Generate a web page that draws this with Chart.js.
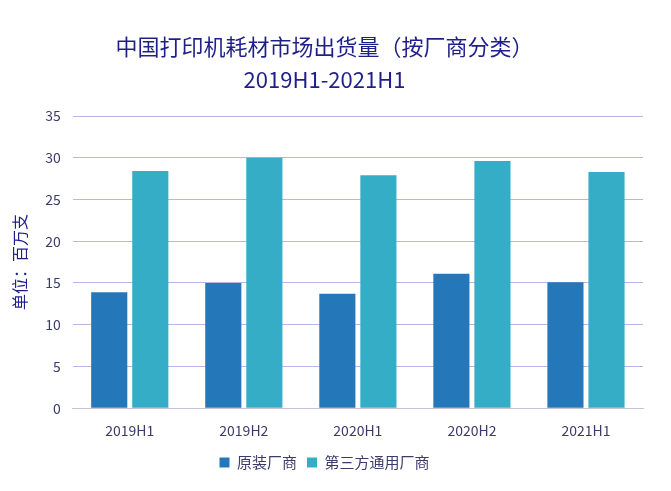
<!DOCTYPE html>
<html>
<head>
<meta charset="utf-8">
<script src="https://cdn.jsdelivr.net/npm/chart.js@4"></script>
<style>
  body { margin: 0; background: #fff; }
  #wrap { width: 671px; height: 491px; }
</style>
</head>
<body>
<div id="wrap"><canvas id="bar-chart" width="671" height="491"></canvas></div>
<script>
const periods = ['2019H1', '2019H2', '2020H1', '2020H2', '2021H1'];
const originalVendor = [13.9, 15.0, 13.7, 16.1, 15.1];
const thirdParty = [28.4, 30.0, 27.9, 29.6, 28.3];
const yTicks = [0, 5, 10, 15, 20, 25, 30, 35];

const font = '"Noto Sans CJK SC", "Open Sans", sans-serif';
const textColor = '#3b3b6b';

const ctx = document.getElementById('bar-chart').getContext('2d');

new Chart(ctx, {
    type: 'bar',
    data: {
        labels: periods,
        datasets: [{
            label: '原装厂商',
            data: originalVendor,
            backgroundColor: '#2478ba'
        }, {
            label: '第三方通用厂商',
            data: thirdParty,
            backgroundColor: '#36adc7'
        }]
    },
    options: {
        responsive: false,
        animation: false,
        layout: { padding: { left: 6, right: 28, top: 10, bottom: 11 } },
        datasets: {
            bar: { categoryPercentage: 0.72, barPercentage: 0.88 }
        },
        plugins: {
            title: {
                display: true,
                text: ['中国打印机耗材市场出货量（按厂商分类）', '2019H1-2021H1'],
                color: '#1f1f8a',
                font: { family: font, size: 22, weight: 'normal', lineHeight: 1.5 },
                padding: { top: 20, bottom: 20 }
            },
            legend: {
                position: 'bottom',
                labels: {
                    color: textColor,
                    font: { family: font, size: 15 },
                    boxWidth: 10,
                    boxHeight: 10,
                    padding: 10
                }
            },
            tooltip: { enabled: false }
        },
        scales: {
            x: {
                grid: { display: false },
                border: { color: '#c4c4d4' },
                ticks: { color: textColor, font: { family: font, size: 14 }, padding: 6 }
            },
            y: {
                min: 0,
                max: 35,
                afterBuildTicks: axis => { axis.ticks = yTicks.map(v => ({ value: v })); },
                grid: { color: '#b9b5e6', drawTicks: false },
                border: { display: false },
                ticks: { color: textColor, font: { family: font, size: 14 }, padding: 12 },
                title: {
                    display: true,
                    text: '单位：百万支',
                    color: '#1f1f8a',
                    font: { family: font, size: 16 },
                    padding: { top: 4, bottom: 4 }
                }
            }
        }
    }
});
</script>
</body>
</html>
